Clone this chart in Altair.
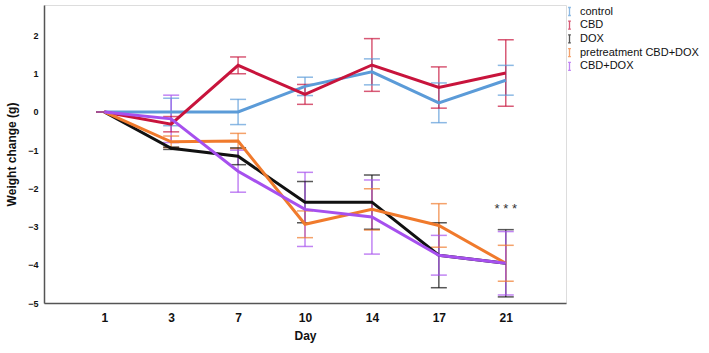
import altair as alt
import pandas as pd

days = ["1", "3", "7", "10", "14", "17", "21"]
series = ["control", "CBD", "DOX", "pretreatment CBD+DOX", "CBD+DOX"]
colors = ["#5B9BD8", "#C8143C", "#111111", "#F07A2C", "#A650EE"]

control_mean = [0, 0.0, 0.0, 0.67, 1.05, 0.24, 0.83]
control_err = [0, 0.36, 0.33, 0.24, 0.34, 0.52, 0.39]
cbd_mean = [0, -0.32, 1.22, 0.46, 1.23, 0.64, 1.02]
cbd_err = [0, 0.20, 0.22, 0.26, 0.69, 0.54, 0.87]
dox_mean = [0, -0.95, -1.16, -2.36, -2.36, -3.75, -3.96]
dox_err = [0, 0.03, 0.22, 0.54, 0.71, 0.85, 0.88]
pre_mean = [0, -0.78, -0.76, -2.94, -2.55, -2.97, -3.96]
pre_err = [0, 0.15, 0.20, 0.35, 0.54, 0.57, 0.47]
cd_mean = [0, -0.18, -1.55, -2.55, -2.75, -3.75, -3.96]
cd_err = [0, 0.62, 0.55, 0.97, 0.97, 0.52, 0.83]

means = [control_mean, cbd_mean, dox_mean, pre_mean, cd_mean]
errs = [control_err, cbd_err, dox_err, pre_err, cd_err]

rows = []
for s, m, e in zip(series, means, errs):
    for d, mv, ev in zip(days, m, e):
        rows.append({"Day": d, "group": s, "mean": mv, "lo": mv - ev, "hi": mv + ev})
df = pd.DataFrame(rows)

sig_df = pd.DataFrame({"Day": ["21"], "y": [-2.55], "label": ["* * *"]})

FONT = "Liberation Sans"

x = alt.X("Day:O", sort=days, scale=alt.Scale(type="point", padding=0.9),
          axis=alt.Axis(title="Day", labelAngle=0, labelFontWeight="bold", labelFontSize=12,
                        labelPadding=9, titleFontWeight="bold", titleFontSize=12, titlePadding=7,
                        ticks=False, domainColor="#555555", domainWidth=1.5,
                        labelColor="#111111", titleColor="#111111"))
yscale = alt.Scale(domain=[-5, 2.8], nice=False, zero=False)
color = alt.Color("group:N", scale=alt.Scale(domain=series, range=colors),
                  legend=alt.Legend(title=None, orient="none", legendX=520, legendY=1,
                                    symbolType="M-0.35,-1L0.35,-1M0,-1L0,1M-0.35,1L0.35,1",
                                    symbolSize=64, symbolStrokeWidth=1.3,
                                    symbolFillColor="transparent", clipHeight=11,
                                    labelFontSize=11, labelOffset=5, rowPadding=1.7,
                                    labelColor="#111111", labelFont=FONT))

base = alt.Chart(df)

lines = base.mark_line(strokeWidth=3).encode(
    x=x,
    y=alt.Y("mean:Q", scale=yscale,
            axis=alt.Axis(title="Weight change (g)", values=[-5, -4, -3, -2, -1, 0, 1, 2],
                          labelFontWeight="bold", labelFontSize=9, labelPadding=6,
                          titleFontWeight="bold", titleFontSize=12, titlePadding=9,
                          ticks=False, grid=False, domainColor="#555555", domainWidth=1.5,
                          labelColor="#111111", titleColor="#111111")),
    color=color,
)
rules = base.mark_rule(strokeWidth=1.5, opacity=0.7).encode(
    x=x,
    y=alt.Y("lo:Q", scale=yscale),
    y2="hi:Q",
    color=color,
)
cap_lo = base.mark_tick(size=16, thickness=1.5, opacity=0.7).encode(
    x=x, y=alt.Y("lo:Q", scale=yscale), color=color
)
cap_hi = base.mark_tick(size=16, thickness=1.5, opacity=0.7).encode(
    x=x, y=alt.Y("hi:Q", scale=yscale), color=color
)
sig = alt.Chart(sig_df).mark_text(fontSize=13, color="#333333", font=FONT).encode(
    x=x, y=alt.Y("y:Q", scale=yscale), text="label:N"
)

chart = alt.layer(rules, cap_lo, cap_hi, lines, sig).properties(
    width=522, height=298,
    autosize=alt.AutoSizeParams(type="none"),
    padding={"left": 44, "top": 5, "right": 143, "bottom": 50},
).configure_view(stroke=None).configure(font=FONT)

chart.save("out.html", embed_options={"renderer": "svg", "actions": False})
